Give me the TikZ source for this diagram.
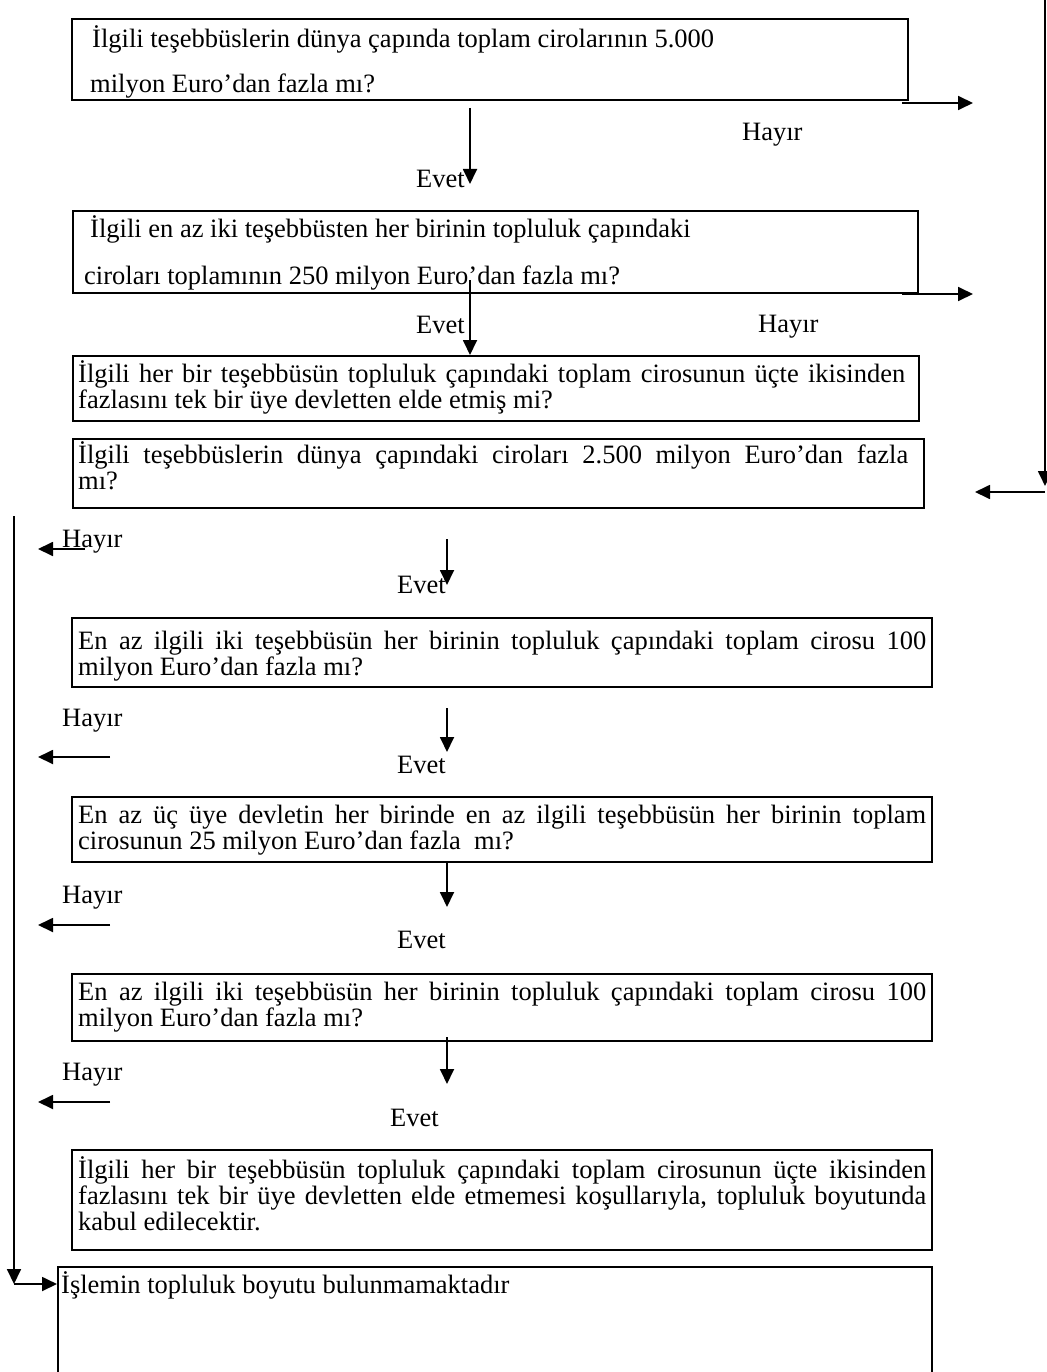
\documentclass[tikz,border=0pt]{standalone}
\usepackage{fontspec}
\setmainfont{Liberation Serif}
\usetikzlibrary{arrows.meta}
\newcommand\dgfont{\fontsize{26.5}{26}\selectfont\hyphenpenalty=10000\exhyphenpenalty=10000\tolerance=9999}
\begin{document}
\begin{tikzpicture}[x=1pt,y=-1pt,
  box/.style={draw, line width=2.2pt, anchor=north west, inner sep=0pt},
  txt/.style={anchor=base west, inner sep=0pt, font=\dgfont},
  jpar/.style={anchor=base west, inner sep=0pt, font=\dgfont, align=justify},
  arr/.style={line width=1.8pt, -{Triangle[length=15pt,width=14pt]}}]
\useasboundingbox (0,0) rectangle (1046,1372);

% boxes
\node[box, minimum width=836, minimum height=81] (b1) at (71,18) {};
\node[box, minimum width=845, minimum height=82] (b2) at (72,210) {};
\node[box, minimum width=846, minimum height=65] (b3) at (72,355) {};
\node[box, minimum width=851, minimum height=69] (b4) at (72,438) {};
\node[box, minimum width=860, minimum height=69] (b5) at (71,617) {};
\node[box, minimum width=860, minimum height=65] (b6) at (71,796) {};
\node[box, minimum width=860, minimum height=67] (b7) at (71,973) {};
\node[box, minimum width=860, minimum height=100] (b8) at (71,1149) {};
\node[box, minimum width=874, minimum height=114] (b9) at (57,1266) {};

% box texts
\node[txt] (t1a) at (92,48) {İlgili teşebbüslerin dünya çapında toplam cirolarının 5.000};
\node[txt] (t1b) at (90,93) {milyon Euro’dan fazla mı?};
\node[txt] (t2a) at (90,237) {İlgili en az iki teşebbüsten her birinin topluluk çapındaki};
\node[txt] (t2b) at (84,284) {ciroları toplamının 250 milyon Euro’dan fazla mı?};
\node[jpar, text width=827] (t3) at (78,382) {İlgili her bir teşebbüsün topluluk çapındaki toplam cirosunun üçte ikisinden\linebreak fazlasını tek bir üye devletten elde etmiş mi?};
\node[jpar, text width=830] (t4) at (78,463) {İlgili teşebbüslerin dünya çapındaki ciroları 2.500 milyon Euro’dan fazla\linebreak mı?};
\node[jpar, text width=848] (t5) at (78,649) {En az ilgili iki teşebbüsün her birinin topluluk çapındaki toplam cirosu 100\linebreak milyon Euro’dan fazla mı?};
\node[jpar, text width=848] (t6) at (78,823) {En az üç üye devletin her birinde en az ilgili teşebbüsün her birinin toplam\linebreak cirosunun 25 milyon Euro’dan fazla\ \ mı?};
\node[jpar, text width=848] (t7) at (78,1000) {En az ilgili iki teşebbüsün her birinin topluluk çapındaki toplam cirosu 100\linebreak milyon Euro’dan fazla mı?};
\node[jpar, text width=848] (t8) at (78,1178) {İlgili her bir teşebbüsün topluluk çapındaki toplam cirosunun üçte ikisinden\linebreak fazlasını tek bir üye devletten elde etmemesi koşullarıyla, topluluk boyutunda\linebreak kabul edilecektir.};
\node[txt] (t9) at (61,1293) {İşlemin topluluk boyutu bulunmamaktadır};

% labels
\node[txt] (h1) at (742,141) {Hayır};
\node[txt] (h2) at (758,332) {Hayır};
\node[txt] (h3) at (62,547) {Hayır};
\node[txt] (h4) at (62,726) {Hayır};
\node[txt] (h5) at (62,903) {Hayır};
\node[txt] (h6) at (62,1080) {Hayır};
\node[txt] (e1) at (416,188) {Evet};
\node[txt] (e2) at (416,333) {Evet};
\node[txt] (e3) at (397,593) {Evet};
\node[txt] (e4) at (397,773) {Evet};
\node[txt] (e5) at (397,948) {Evet};
\node[txt] (e6) at (390,1126) {Evet};

% connector end points
\coordinate (a1s) at (470,108);  \coordinate (a1e) at (470,184);
\coordinate (a2s) at (470,280);  \coordinate (a2e) at (470,355);
\coordinate (a3s) at (447,539);  \coordinate (a3e) at (447,585);
\coordinate (a4s) at (447,708);  \coordinate (a4e) at (447,752);
\coordinate (a5s) at (447,861);  \coordinate (a5e) at (447,907);
\coordinate (a6s) at (447,1037); \coordinate (a6e) at (447,1084);
\coordinate (r1s) at (902,103);  \coordinate (r1e) at (973,103);
\coordinate (r2s) at (902,294);  \coordinate (r2e) at (973,294);
\coordinate (rvt) at (1045,0);   \coordinate (rvb) at (1045,486);
\coordinate (rhs) at (1045,492); \coordinate (rhe) at (975,492);
\coordinate (l1s) at (85,549);   \coordinate (l1e) at (38,549);
\coordinate (l2s) at (110,757);  \coordinate (l2e) at (38,757);
\coordinate (l3s) at (110,925);  \coordinate (l3e) at (38,925);
\coordinate (l4s) at (110,1102); \coordinate (l4e) at (38,1102);
\coordinate (lvt) at (14,516);   \coordinate (lvb) at (14,1284);
\coordinate (lhe) at (57,1284);

% connectors
\draw[arr] (a1s) -- (a1e);
\draw[arr] (a2s) -- (a2e);
\draw[arr] (a3s) -- (a3e);
\draw[arr] (a4s) -- (a4e);
\draw[arr] (a5s) -- (a5e);
\draw[arr] (a6s) -- (a6e);
\draw[arr] (r1s) -- (r1e);
\draw[arr] (r2s) -- (r2e);
\draw[arr] (rvt) -- (rvb);
\draw[arr] (rhs) -- (rhe);
\draw[arr] (l1s) -- (l1e);
\draw[arr] (l2s) -- (l2e);
\draw[arr] (l3s) -- (l3e);
\draw[arr] (l4s) -- (l4e);
\draw[arr] (lvt) -- (lvb);
\draw[arr] (lvb) -- (lhe);
\end{tikzpicture}
\end{document}
